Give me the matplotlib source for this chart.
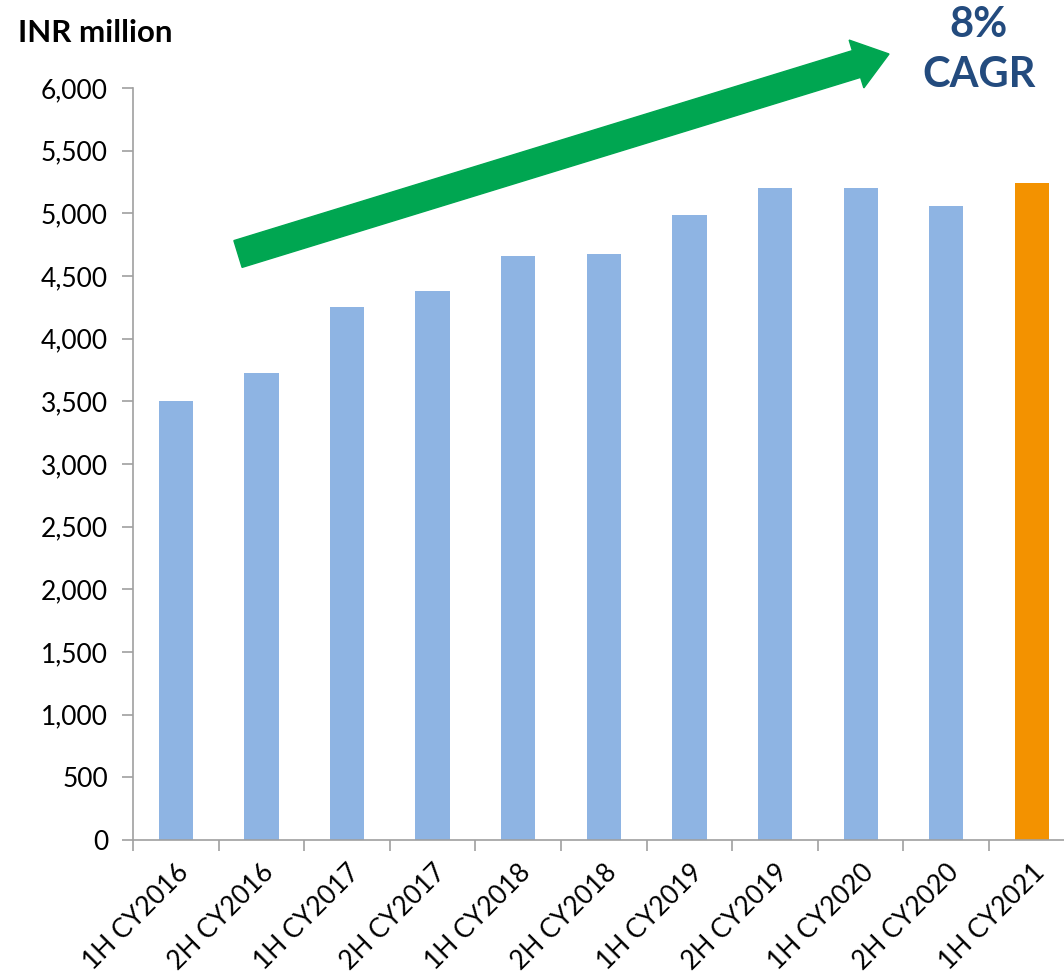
import numpy as np
import matplotlib.pyplot as plt
import matplotlib.patches as mpatches
from matplotlib.transforms import IdentityTransform
from matplotlib.ticker import FuncFormatter

periods = ["1H CY2016", "2H CY2016", "1H CY2017", "2H CY2017", "1H CY2018",
           "2H CY2018", "1H CY2019", "2H CY2019", "1H CY2020", "2H CY2020",
           "1H CY2021"]
revenue = [3500, 3725, 4255, 4380, 4660, 4675, 4985, 5205, 5200, 5055, 5245]
bar_colors = ["#8EB4E3"] * 10 + ["#F39200"]

plt.rcParams['font.family'] = ['Lato', 'DejaVu Sans']

fig = plt.figure(figsize=(10.64, 9.75), dpi=100)
# axes runs past the right edge of the figure, like the cropped original
ax = fig.add_axes([0.125, 0.1385, 0.885, 0.7713])

x = np.arange(len(periods))
ax.bar(x, revenue, width=0.4, color=bar_colors)

ax.set_xlim(-0.5, len(periods) - 0.5)
ax.set_ylim(0, 6000)
ax.set_yticks(np.arange(0, 6001, 500))
ax.yaxis.set_major_formatter(FuncFormatter(lambda v, p: f"{int(v):,}"))

ax.set_xticks(x)
ax.set_xticklabels(periods, rotation=45, ha='right', rotation_mode='anchor')
ax.set_xticks(np.arange(-0.5, len(periods), 1), minor=True)
ax.tick_params(axis='x', which='major', length=0, pad=14, labelsize=19)
ax.tick_params(axis='x', which='minor', length=8, color='#A0A0A0', width=1.2)
ax.tick_params(axis='y', length=8, color='#A0A0A0', width=1.2, labelsize=19, pad=10)

for s in ['top', 'right']:
    ax.spines[s].set_visible(False)
for s in ['left', 'bottom']:
    ax.spines[s].set_color('#A0A0A0')
    ax.spines[s].set_linewidth(1.2)

fig.text(0.017, 0.966, "INR million", fontsize=22.5, fontweight='bold', va='center', ha='left')
fig.text(0.92, 0.974, "8%", fontsize=30, fontweight='bold', color='#234B7E', ha='center', va='center')
fig.text(0.92, 0.923, "CAGR", fontsize=30, fontweight='bold', color='#234B7E', ha='center', va='center')

# growth arrow, drawn in pixel coordinates
tail = (238, 975 - 254)
tip = (889, 975 - 54)
arrow = mpatches.FancyArrow(tail[0], tail[1], tip[0] - tail[0], tip[1] - tail[1],
                            width=28, head_width=50, head_length=34,
                            length_includes_head=True, color='#00A651',
                            transform=IdentityTransform())
fig.patches.append(arrow)

fig.savefig("out.png", dpi=100)
